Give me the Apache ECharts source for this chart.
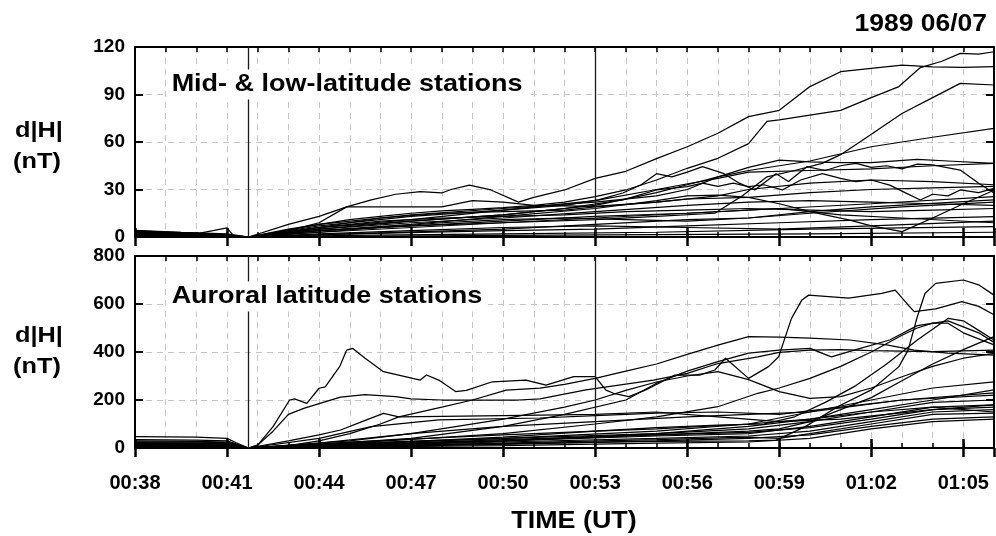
<!DOCTYPE html>
<html><head><meta charset="utf-8">
<script src="https://cdn.jsdelivr.net/npm/echarts@6/dist/echarts.min.js"></script>
<style>html,body{margin:0;padding:0;background:#fff}#c{width:996px;height:536px}</style>
</head><body><div id="c"></div>
<script>
// Time in minutes after 00:00 UT, value d|H| in nT
// ---------- Mid- & low-latitude stations ----------
const midA = [[38,4.2],[39.5,3],[41,2],[41.7,0],[43,8],[44,13],[44.9,19],[45.7,23.4],[46.5,27],[47.3,28.6],[48,27.8],[48.3,30],[48.9,32.8],[49.6,29.7],[50.5,22],[51,25],[52,29.7],[53,37],[54,41.5],[55,49.5],[56,57],[57,65.5],[58,76],[59,80],[60,95],[61,104.4],[62,106.5],[63,108.6],[64,107.5],[65,107.2],[66,107.6]];
const midB = [[38,3.5],[39.5,2.5],[41,1.5],[41.7,0],[43,5],[44,8],[45,11],[46,13],[47,15],[48,16.5],[49,17.5],[50,18.5],[51,20],[52,22],[53,25.5],[54,29.7],[55,36],[56,43.4],[57,49.7],[58,59],[58.6,73],[59,74],[60,77],[61,80],[62,88],[62.9,95],[63.6,107],[64.3,111],[64.9,116],[65.5,115.5],[66,117]];
const midC = [[38,2],[40,1.5],[41.7,0],[44,4],[47,7],[50,9],[53,11],[55,13],[56.9,15],[57.8,26],[58.6,38],[59.5,42],[60.4,46.5],[61,52],[61.7,61],[63,78],[64,88],[64.9,97],[66,96]];
const midD = [[38,1],[40,1],[41.7,0],[44,6],[47,10],[50,14],[53,20],[55,28],[56,33],[57,38],[58,42],[60,48],[62,57],[64,63],[66,68.6]];
const midE = [[38,3],[40,2],[41.7,0],[44,8],[47,14],[50,18],[53,22],[55,26],[56,30],[57,38],[58,44],[59,48.6],[60,47.5],[61,47],[62,47],[63.5,49],[64.5,48],[66,46.5]];
const midF = [[38,2.5],[40,2],[41.7,0],[44,7],[47,13],[50,17],[52,20],[53.1,23.4],[53.9,27.8],[54.5,33],[55,40],[55.5,38],[56,41],[56.5,44.4],[57.2,40],[57.7,34],[58.2,29.7],[58.9,40],[59.3,35],[59.9,44.4],[60.5,42],[61,45],[61.5,46.5],[62,44],[62.5,45],[63,43],[63.5,46],[64,45.5],[64.9,42.3],[65.5,34],[66,27.8]];
const midG = [[38,1.5],[40,1],[41.7,0],[44,5],[47,10],[50,14],[52,18],[53.9,23.4],[55,29.7],[56,31.8],[56.5,34],[57,32],[57.5,34],[58,31.8],[58.5,33],[59.1,29.7],[59.7,36],[60.4,40],[61,37],[61.5,35],[62,36],[62.6,32.8],[63.1,28],[63.6,23.4],[64,27],[64.5,26],[64.9,29.7],[65.5,28],[66,30.7]];
const midH = [[38,2],[40,1.5],[41.7,0],[44,6],[47,11],[50,17],[53,23],[55,30],[57,37],[58,41],[60,42],[62,43],[64,45],[66,46.5]];
const midI = [[38,1],[40,0.8],[41.7,0],[44,4],[47,8],[50,13],[53,18],[55,23],[56,26],[57,26.5],[58,25],[59,21],[60,16],[61.3,10.7],[62,7],[63,3.4],[64,12],[65,21],[66,29.5]];
const midJ = [[38,0.5],[40,0.5],[41.7,0],[44,3],[47,6],[50,9],[53,12],[56,15],[59,18],[62,21],[66,25.5]];
const midK = [[38,3],[40,2],[41.7,0],[45,2],[50,5],[53,8],[56,11],[58,12],[60,16],[62,19],[66,23.4]];
const midL = [[38,2],[40,1.5],[41.7,0],[44,5],[47,9],[50,12],[53,16],[56,20],[58,22],[60,23],[62,22],[64,21],[66,20]];
const midM = [[38,1.8],[40,1],[41.7,0],[44,4],[47,7],[50,10],[53,13],[56,15],[58,17],[59,18],[61,14],[63,12],[66,9]];
const midN = [[38,1],[40,0.5],[41.7,0],[45,2],[50,4],[53,5],[56,7],[59,9],[62,11],[66,12.8]];
const midO = [[38,0.5],[40,0.3],[41.7,0],[45,1],[50,2],[55,3],[60,5],[66,6.5]];
const midP = [[38,0.3],[41.7,0],[50,1],[60,2],[66,3]];
const midQ = [[38,2.8],[40,2],[41,5.7],[41.2,1],[41.7,0],[43,4],[44,9],[44.9,19],[48,19],[49,23],[50,22],[51,20],[53,19.4],[55,22],[56,24],[58,25],[60,28],[62,30],[64,31],[66,32]];
const midR = [[38,3.8],[40,2.5],[41.7,0],[43,3],[44,6],[46,10],[48,12],[50,13],[52,14],[54,16],[56,17],[58,18],[60,17],[62,16],[64,17],[66,18]];
const midS = [[38,1.2],[40,1],[41.7,0],[44,3],[46,6],[48,9],[50,11],[52,12],[54,11],[56,10],[58,12],[60,15],[63,19],[66,22]];
const midT = [[38,0.8],[40,0.5],[41.7,0],[44,2],[47,4],[50,6],[53,7],[56,6],[59,5],[62,7],[66,10]];
const midU = [[38,2.2],[40,1.8],[41.7,0],[44,6],[46,12],[48,15],[50,16],[52,17],[53,19],[55,22],[57,26],[58,30],[60,34],[62,36],[64,35],[66,33]];

// ---------- Auroral latitude stations ----------
const aurA = [[38,47],[40,45],[41,40],[41.3,22],[41.7,0],[42,12],[42.5,89],[43.04,200],[43.2,205],[43.6,186],[44,249],[44.2,255],[44.67,339],[44.9,408],[45.1,415],[45.5,374],[46.1,318],[47.05,290],[47.3,283],[47.5,304],[47.9,283],[48.45,235],[48.8,240],[49.65,276],[50.74,283],[51.4,262],[52.3,297],[53,297],[53.35,241],[53.6,228],[54.1,214],[54.65,242],[55.08,270],[55.6,304],[56.4,304],[56.9,325],[57.25,374],[58,290],[58.65,339],[58.98,380],[59.4,540],[59.74,617],[59.96,637],[61.26,624],[62.34,644],[62.78,658],[63.2,596],[63.4,568],[64.1,580],[64.95,610],[65.5,590],[66,555]];
const aurB = [[38,35],[40,33],[41,30],[41.7,0],[42,12],[42.5,70],[43,140],[43.5,165],[44,185],[44.7,212],[45.5,222],[46.5,214],[47,205],[48,200],[50.5,200],[51.2,205],[52.7,242],[54.9,283],[56,311],[57,352],[58.3,380],[59,398],[60,408],[61,410],[62,406],[64,402],[66,408]];
const aurC = [[38,30],[40,28],[41,25],[41.7,0],[43,10],[44,30],[45,60],[46,100],[46.6,130],[48,170],[49,200],[50.1,241],[51.2,249],[52,265],[53,290],[54,320],[55,350],[56,390],[57,429],[58,464],[59,462],[60,458],[61.3,450],[62.5,430],[63.4,408],[64.5,395],[66,387]];
const aurD = [[38,26],[40,24],[41,22],[41.7,0],[43,30],[44,55],[44.7,75],[45.4,110],[46.1,144],[46.6,130],[48,132],[50,135],[53,140],[55,150],[57,130],[59,110],[61,120],[64,160],[66,180]];
const aurE = [[38,22],[40,20],[41,18],[41.7,0],[44,40],[45.7,89],[47.9,117],[51.2,125],[53,135],[55,145],[57,150],[59,140],[61,170],[63,200],[66,230]];
const aurF = [[38,20],[40,19],[41,17],[41.7,0],[44,15],[47,40],[50,90],[52,140],[54,200],[55,270],[56,320],[57,360],[58,395],[59,408],[60,415],[60.7,380],[61.5,410],[62.6,450],[63.5,510],[64.5,530],[65.5,480],[66,440]];
const aurG = [[38,18],[40,17],[41,15],[41.7,0],[44,20],[47,60],[50,120],[52,170],[53,200],[54,240],[55,275],[56,300],[57,318],[58,285],[59,235],[60,207],[61,214],[62,250],[63,297],[64,340],[65,374],[66,394]];
const aurH = [[38,15],[40,14],[41,12],[41.7,0],[45,8],[50,18],[55,28],[58,30],[58.9,33],[59.85,89],[60.9,172],[62,242],[62.9,339],[63.2,408],[63.5,547],[63.75,644],[64.1,686],[65,700],[65.5,680],[66,637]];
const aurI = [[38,13],[40,12],[41,10],[41.7,0],[45,20],[50,60],[53,100],[55,130],[57,172],[58.3,228],[59,250],[60,290],[61,340],[62,400],[63,470],[63.5,500],[64,520],[64.5,520],[65,480],[66,430]];
const aurJ = [[38,11],[40,10],[41,9],[41.7,0],[45,15],[50,45],[53,70],[55,85],[57,95],[58.5,100],[59.5,130],[60.5,190],[61.5,260],[62.5,350],[63.5,450],[64.5,540],[65,530],[65.5,490],[66,450]];
const aurK = [[38,9],[40,8],[41,7],[41.7,0],[45,10],[50,30],[55,55],[58,70],[59,80],[60,110],[61,160],[62,210],[63,280],[64,350],[65,410],[66,464]];
const aurL = [[38,8],[40,7],[41.7,0],[45,15],[50,40],[55,70],[58,100],[60,150],[62,200],[64,250],[66,276]];
const aurM = [[38,7],[40,6],[41.7,0],[50,30],[55,60],[58,90],[60,120],[62,160],[64,200],[66,242]];
const aurN = [[38,6],[40,5],[41.7,0],[45,10],[50,25],[55,40],[58,50],[60,70],[62,110],[64,150],[66,160]];
const aurO = [[38,5],[40,4],[41.7,0],[45,15],[50,30],[55,50],[58,60],[60,90],[62,130],[64,170],[66,150]];
const aurP = [[38,4],[40,3],[41.7,0],[45,5],[50,15],[55,30],[58,40],[60,55],[62,90],[64,120],[66,130]];
const aurQ = [[38,3],[40,2],[41.7,0],[45,20],[50,40],[55,60],[58,80],[60,110],[62,150],[64,190],[66,200]];
const aurR = [[38,2],[40,2],[41.7,0],[45,8],[50,20],[55,35],[58,45],[59,40],[60,60],[62,100],[64,140],[66,145]];
const aurS = [[38,1],[40,1],[41.7,0],[50,10],[55,20],[58,25],[60,40],[62,80],[64,110],[66,120]];
const aurT = [[38,10],[40,9],[41.7,0],[45,25],[50,55],[53,70],[55,80],[58,100],[60,120],[62,150],[64,170],[66,180]];
const aurU = [[38,12],[40,11],[41.7,0],[45,30],[47,60],[50,90],[53,110],[56,130],[58,140],[60,150],[63,200],[66,220]];
const aurV = [[38,16],[40,15],[41.7,0],[45,12],[50,35],[55,55],[58,65],[60,85],[62,120],[64,160],[66,170]];

const midSeries = [midA,midB,midC,midD,midE,midF,midG,midH,midI,midJ,midK,midL,midM,midN,midO,midP,midQ,midR,midS,midT,midU];
const aurSeries = [aurA,aurB,aurC,aurD,aurE,aurF,aurG,aurH,aurI,aurJ,aurK,aurL,aurM,aurN,aurO,aurP,aurQ,aurR,aurS,aurT,aurU,aurV];

const timeMin = 38, timeMax = 66;          // 00:38 .. 01:06
const eventTimes = [41.7, 53];             // vertical reference lines
const midAxis = {min:0, max:120, interval:30};
const aurAxis = {min:0, max:800, interval:200};
const labels = {
  date:'1989 06/07', mid:'Mid- & low-latitude stations', aur:'Auroral latitude stations',
  y1:'d|H|', y2:'(nT)', x:'TIME (UT)'
};

const FONT = '"Liberation Sans", Arial, Helvetica, sans-serif';
const pad = n => String(n).padStart(2,'0');
const fmt = v => { const h = Math.floor(v/60); const m = Math.round(v - h*60); return pad(h)+':'+pad(m); };
const dashGrid = {show:true, lineStyle:{color:'#c6c6c6', type:[6,5], width:1}};
const frame = {show:true, onZero:false, lineStyle:{color:'#000', width:2}};

function xAxesFor(gi, showLabels){
  const base = {type:'value', gridIndex:gi, min:timeMin, max:timeMax};
  return [
    Object.assign({}, base, {interval:1, position:'bottom', axisLine:frame,
      axisTick:{show:true, inside:true, length:5, lineStyle:{color:'#000', width:1.5}},
      axisLabel:{show:false}, splitLine:dashGrid}),
    Object.assign({}, base, {interval:3, position:'bottom', axisLine:{show:false},
      axisTick:{show:true, inside:true, length:9, lineStyle:{color:'#000', width:2.5}},
      axisLabel:{show:showLabels, formatter:fmt, showMaxLabel:false, margin:25, fontSize:20, fontWeight:'bold', color:'#000', fontFamily:FONT},
      splitLine:{show:false}}),
    Object.assign({}, base, {interval:1, position:'top', axisLine:frame,
      axisTick:{show:true, inside:true, length:5, lineStyle:{color:'#000', width:1.5}},
      axisLabel:{show:false}, splitLine:{show:false}}),
    Object.assign({}, base, {interval:3, position:'top', axisLine:{show:false},
      axisTick:{show:true, inside:true, length:9, lineStyle:{color:'#000', width:2.5}},
      axisLabel:{show:false}, splitLine:{show:false}})
  ];
}
function yAxesFor(gi, ax){
  return [
    {type:'value', gridIndex:gi, position:'left', min:ax.min, max:ax.max, interval:ax.interval,
      axisLine:frame, axisTick:{show:true, inside:true, length:8, lineStyle:{color:'#000', width:2}},
      axisLabel:{margin:10, fontSize:19, fontWeight:'bold', color:'#000', fontFamily:FONT},
      splitLine:dashGrid},
    {type:'value', gridIndex:gi, position:'right', min:ax.min, max:ax.max, interval:ax.interval,
      axisLine:frame, axisTick:{show:true, inside:true, length:8, lineStyle:{color:'#000', width:2}},
      axisLabel:{show:false}, splitLine:{show:false}}
  ];
}
function seriesFor(list, gi){
  return list.map((d, i) => {
    const s = {type:'line', xAxisIndex:gi*4, yAxisIndex:gi*2, data:d, showSymbol:false, symbol:'none',
      lineStyle:{color:'#000', width:1.25}, silent:true, animation:false, z:3};
    if (i === 0) {
      s.markLine = {silent:true, symbol:'none', label:{show:false}, animation:false,
        lineStyle:{color:'#1a1a1a', width:1.3, type:'solid'},
        data: eventTimes.map(t => ({xAxis:t}))};
    }
    return s;
  });
}
function txt(x, y, text, size, sx, align, bg){
  const style = {text:text, x:0, y:0, font:'bold '+size+'px '+FONT, fill:'#000', align:align, verticalAlign:'middle'};
  if (bg) { style.backgroundColor = '#fff'; style.padding = [3,5]; }
  return {type:'text', x:x, y:y, scaleX:sx, scaleY:1, z:100, silent:true, style:style};
}

const chart = echarts.init(document.getElementById('c'), null, {renderer:'canvas'});
chart.setOption({
  animation:false,
  backgroundColor:'#fff',
  grid:[
    {left:135, right:2, top:47, height:190},
    {left:135, right:2, top:256, height:192}
  ],
  xAxis: xAxesFor(0, false).concat(xAxesFor(1, true)),
  yAxis: yAxesFor(0, midAxis).concat(yAxesFor(1, aurAxis)),
  series: seriesFor(midSeries, 0).concat(seriesFor(aurSeries, 1)),
  graphic:[
    txt(987, 25, labels.date, 23, 1.15, 'right', false),
    txt(166, 84.5, labels.mid, 24, 1.125, 'left', true),
    txt(166, 296.5, labels.aur, 24, 1.125, 'left', true),
    txt(39, 130.5, labels.y1, 22, 1.15, 'center', false),
    txt(37, 162, labels.y2, 22, 1.15, 'center', false),
    txt(39, 335.5, labels.y1, 22, 1.15, 'center', false),
    txt(37, 366.5, labels.y2, 22, 1.15, 'center', false),
    txt(574, 521, labels.x, 24, 1.12, 'center', false)
  ]
});
</script>
</body></html>
